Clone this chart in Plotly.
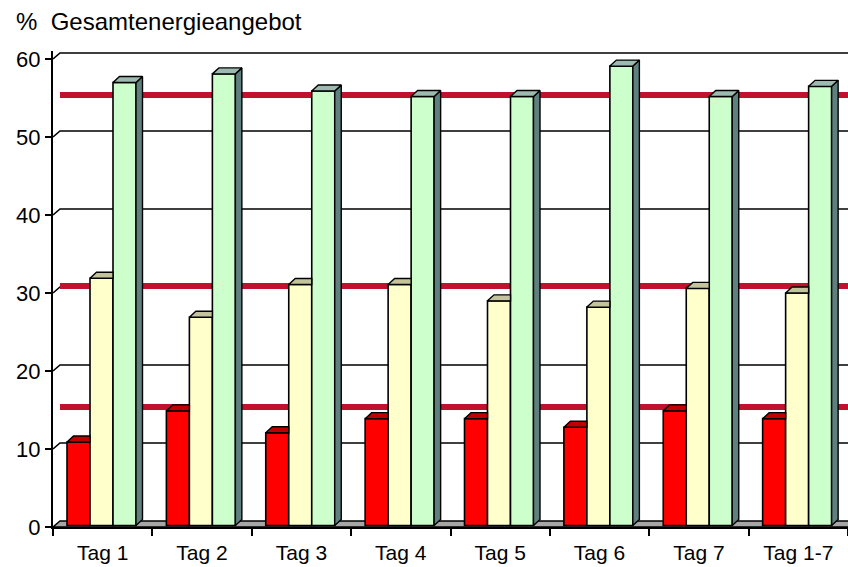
import plotly.graph_objects as go

# ---------------- data ----------------
categories = ["Tag 1", "Tag 2", "Tag 3", "Tag 4", "Tag 5", "Tag 6", "Tag 7", "Tag 1-7"]
eiweiss = [10.7, 14.7, 11.9, 13.7, 13.7, 12.6, 14.7, 13.7]          # red
fett = [31.7, 26.7, 30.9, 30.9, 28.8, 28.0, 30.4, 29.8]             # light yellow
kohlenhydrate = [56.8, 57.9, 55.7, 55.0, 55.0, 58.9, 55.0, 56.3]     # light green
richtwerte = [55, 30.5, 15]                                          # dark red reference lines
y_ticks = [0, 10, 20, 30, 40, 50, 60]
title_text = "%\u00a0\u00a0Gesamtenergieangebot"

# ---------------- geometry / style ----------------
W_FIG, H_FIG = 848, 567
M_L, M_R, M_T, M_B = 53, 0, 51, 40
PLOT_W = W_FIG - M_L - M_R
PLOT_H = H_FIG - M_T - M_B
N = len(categories)
PX_X = PLOT_W / N          # pixels per category
PX_Y = 7.8                 # pixels per percent
Y_MAX = PLOT_H / PX_Y

DXW, DYW = 7 / PX_X, 6 / PX_Y        # wall depth
DXF, DYF = 1.5 / PX_X, 1.5 / PX_Y    # bar front offset
DXB, DYB = 6.5 / PX_X, 6 / PX_Y      # bar depth
BAR_LEFT = 14 / PX_X
BAR_W = 23 / PX_X

FONT = "Liberation Sans, Arial, sans-serif"

series = [
    (eiweiss, "#FF0000", "#C00000", "#800000"),
    (fett, "#FFFFCC", "#C4C49C", "#9C9C7A"),
    (kohlenhydrate, "#CCFFCC", "#9CBAB0", "#607F7F"),
]

fig = go.Figure()

# front faces (library bars)
for j, (vals, front, top, side) in enumerate(series):
    fig.add_trace(go.Bar(
        x=list(range(N)), y=vals, base=DYF,
        offset=BAR_LEFT + j * BAR_W, width=BAR_W,
        marker=dict(color=front, line=dict(color="black", width=1.6)),
        showlegend=False, hoverinfo="skip",
    ))

# top and side faces computed from the data values
for j, (vals, front, top, side) in enumerate(series):
    nxt = series[j + 1][0] if j + 1 < len(series) else None
    tx, ty, sx, sy = [], [], [], []
    for i, v in enumerate(vals):
        x0 = i + BAR_LEFT + j * BAR_W
        x1 = x0 + BAR_W
        yb = DYF
        yt = DYF + v
        hidden = nxt is not None and nxt[i] >= v + DYB
        if hidden:
            tx += [x0, x1, x1, x0 + DXB, x0, None]
            ty += [yt, yt, yt + DYB, yt + DYB, yt, None]
        else:
            tx += [x0, x1, x1 + DXB, x0 + DXB, x0, None]
            ty += [yt, yt, yt + DYB, yt + DYB, yt, None]
            sx += [x1, x1, x1 + DXB, x1 + DXB, x1, None]
            sy += [yb, yt, yt + DYB, yb + DYB, yb, None]
    if sx:
        fig.add_trace(go.Scatter(x=sx, y=sy, mode="lines", fill="toself",
                                 fillcolor=side, line=dict(color="black", width=1.4),
                                 showlegend=False, hoverinfo="skip"))
    fig.add_trace(go.Scatter(x=tx, y=ty, mode="lines", fill="toself",
                             fillcolor=top, line=dict(color="black", width=1.4),
                             showlegend=False, hoverinfo="skip"))

shapes = []
# back-wall gridlines with slanted left-wall segment
for t in y_ticks[1:]:
    shapes.append(dict(
        type="path", xref="x", yref="y", layer="below",
        path=f"M 0,{t} L {DXW},{t + DYW} L {N + DXW},{t + DYW}",
        line=dict(color="black", width=1.6),
    ))
# reference lines
for r in richtwerte:
    shapes.append(dict(
        type="line", xref="x", yref="y", layer="below",
        x0=DXW, x1=N + DXW, y0=r + DYW / 2, y1=r + DYW / 2,
        line=dict(color="#C0112F", width=6),
    ))
# floor
shapes.append(dict(
    type="path", xref="x", yref="y", layer="below",
    path=f"M 0,0 L {N},0 L {N + DXW},{DYW} L {DXW},{DYW} Z",
    fillcolor="#A6A6A6", line=dict(color="black", width=1.4),
))

fig.update_layout(
    width=W_FIG, height=H_FIG,
    margin=dict(l=M_L, r=M_R, t=M_T, b=M_B),
    paper_bgcolor="white", plot_bgcolor="white",
    barmode="overlay",
    font=dict(family=FONT, color="black"),
    shapes=shapes,
    annotations=[dict(
        text=title_text, xref="paper", yref="paper",
        x=(14 - M_L) / PLOT_W, y=(H_FIG - M_B - 22) / PLOT_H,
        xanchor="left", yanchor="middle", showarrow=False,
        font=dict(family=FONT, size=24, color="black"),
    )],
    xaxis=dict(
        range=[0, N], tickmode="array",
        tickvals=[i + 0.5 for i in range(N)], ticktext=categories,
        ticks="outside", ticklen=6, tickcolor="rgba(0,0,0,0)",
        minor=dict(tickmode="linear", tick0=0, dtick=1, ticks="outside",
                   ticklen=7, tickwidth=1.6, tickcolor="black", showgrid=False),
        showline=True, linecolor="black", linewidth=2,
        showgrid=False, zeroline=False, fixedrange=True,
        tickfont=dict(family=FONT, size=21, color="black"),
    ),
    yaxis=dict(
        range=[0, Y_MAX], tickmode="array", tickvals=y_ticks,
        ticks="outside", ticklen=6, tickwidth=1.6, tickcolor="black",
        showline=True, linecolor="black", linewidth=2,
        showgrid=False, zeroline=False, fixedrange=True,
        tickfont=dict(family=FONT, size=22, color="black"),
    ),
)

fig.write_html("out.html", config={"displayModeBar": False},
               post_script="document.body.style.margin='0px';")
